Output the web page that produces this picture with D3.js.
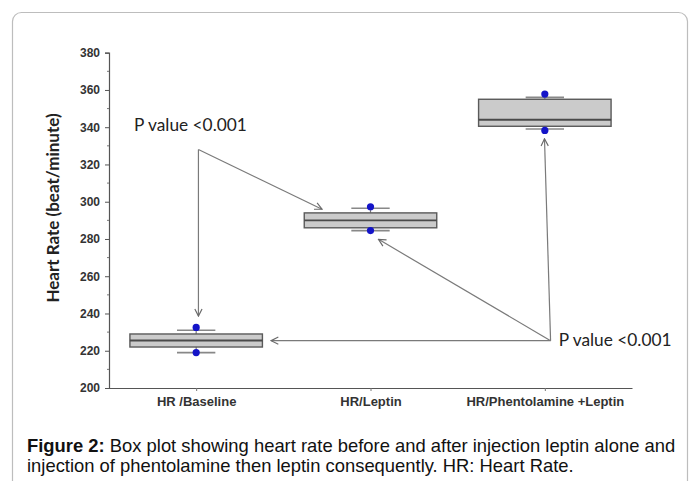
<!DOCTYPE html>
<html>
<head>
<meta charset="utf-8">
<script src="https://cdn.jsdelivr.net/npm/d3@7"></script>
<style>
  html, body { margin: 0; padding: 0; background: #fff; }
  svg { display: block; }
</style>
</head>
<body>
<div id="d3-container"></div>
<script>
/**
 * CONSTANTS AND DATA
 * */
const width = 696,
  height = 481;

// categories and box-plot statistics
const categories = ["HR /Baseline", "HR/Leptin", "HR/Phentolamine +Leptin"];
const q1 = [222, 286, 340.5];
const median = [225.5, 290, 344];
const q3 = [229, 294, 355];
const capLow = [219, 284.5, 339];
const capHigh = [231, 296.5, 356];
const pointLow = [219, 284.5, 338.3];
const pointHigh = [232.5, 297.3, 357.8];

const yTicks = [200, 220, 240, 260, 280, 300, 320, 340, 360, 380];
const yMinorTicks = [210, 230, 250, 270, 290, 310, 330, 350, 370];

// annotation arrows, in (category index, value) coordinates
const pLabels = [
  { text: "P value <0.001", x: -0.356, y: 338 },
  { text: "P value <0.001", x: 2.08, y: 222.8 }
];
const arrows = [
  { from: [0.013, 328], to: [0.013, 238.6] },
  { from: [0.013, 328], to: [0.722, 296] },
  { from: [2.033, 225.4], to: [0.43, 225.4] },
  { from: [2.033, 225.4], to: [1.046, 279.8] },
  { from: [2.033, 225.4], to: [1.998, 333.8] }
];

const caption = [
  { bold: "Figure 2:", rest: " Box plot showing heart rate before and after injection leptin alone and" },
  { bold: "", rest: "injection of phentolamine then leptin consequently. HR: Heart Rate." }
];

const plot = { left: 109, right: 632, top: 52.7, bottom: 388 };

/**
 * SCALES
 * */
const x = d3.scalePoint()
  .domain(categories)
  .range([plot.left, plot.right])
  .padding(0.5);

// linear version for annotation placement (index units)
const xi = d3.scaleLinear()
  .domain([-0.5, categories.length - 0.5])
  .range([plot.left, plot.right]);

const y = d3.scaleLinear()
  .domain([200, 380])
  .range([plot.bottom, plot.top]);

const step = x.step();
const boxW = step * 0.76;
const capW = step * 0.22;

const svg = d3.select("#d3-container")
  .append("svg")
  .attr("width", width)
  .attr("height", height);

// card frame
svg.append("rect")
  .attr("x", 12.5).attr("y", 12.5)
  .attr("width", 675).attr("height", 490)
  .attr("rx", 9)
  .attr("fill", "#fff")
  .attr("stroke", "#bdbdbd")
  .attr("stroke-width", 1.2);

svg.append("defs").append("marker")
  .attr("id", "arrowhead")
  .attr("viewBox", "0 0 10 10")
  .attr("refX", 9).attr("refY", 5)
  .attr("markerWidth", 9).attr("markerHeight", 9)
  .attr("markerUnits", "userSpaceOnUse")
  .attr("orient", "auto")
  .append("path")
  .attr("d", "M1,1 L9,5 L1,9")
  .attr("fill", "none")
  .attr("stroke", "#6a6a6a")
  .attr("stroke-width", 1.3);

/**
 * AXES
 * */
const yAxis = svg.append("g")
  .attr("transform", `translate(${plot.left},0)`)
  .call(d3.axisLeft(y).tickValues(yTicks).tickSize(4).tickPadding(5));
yAxis.select(".domain").attr("stroke", "#555").attr("stroke-width", 1.2);
yAxis.selectAll(".tick line").attr("stroke", "#555");
yAxis.selectAll(".tick text")
  .attr("font-family", "Arial, 'Liberation Sans', sans-serif")
  .attr("font-weight", "bold")
  .attr("font-size", 12)
  .attr("fill", "#333");

svg.append("g")
  .selectAll("line")
  .data(yMinorTicks)
  .join("line")
  .attr("x1", plot.left - 2).attr("x2", plot.left)
  .attr("y1", d => y(d)).attr("y2", d => y(d))
  .attr("stroke", "#777");

const xAxis = svg.append("g")
  .attr("transform", `translate(0,${plot.bottom})`)
  .call(d3.axisBottom(x).tickSize(3).tickPadding(6).tickSizeOuter(0));
xAxis.select(".domain").attr("stroke", "#555").attr("stroke-width", 1.2);
xAxis.selectAll(".tick line").attr("stroke", "#777");
xAxis.selectAll(".tick text")
  .attr("font-family", "Arial, 'Liberation Sans', sans-serif")
  .attr("font-weight", "bold")
  .attr("font-size", 13)
  .attr("fill", "#333");

svg.append("text")
  .attr("transform", "translate(59,208) rotate(-90)")
  .attr("text-anchor", "middle")
  .attr("font-family", "Lato, 'Open Sans', sans-serif")
  .attr("font-weight", "bold")
  .attr("font-size", 17)
  .attr("fill", "#222")
  .text("Heart Rate (beat/minute)");

/**
 * BOXES
 * */
const boxes = svg.append("g")
  .selectAll("g.box")
  .data(categories)
  .join("g")
  .attr("class", "box");

// whisker stubs
boxes.append("line")
  .attr("x1", d => x(d)).attr("x2", d => x(d))
  .attr("y1", (d, i) => y(q3[i])).attr("y2", (d, i) => y(pointHigh[i]))
  .attr("stroke", "#777").attr("stroke-width", 1.2);
boxes.append("line")
  .attr("x1", d => x(d)).attr("x2", d => x(d))
  .attr("y1", (d, i) => y(q1[i])).attr("y2", (d, i) => y(pointLow[i]))
  .attr("stroke", "#777").attr("stroke-width", 1.2);

// caps
boxes.append("line")
  .attr("x1", d => x(d) - capW / 2).attr("x2", d => x(d) + capW / 2)
  .attr("y1", (d, i) => y(capHigh[i])).attr("y2", (d, i) => y(capHigh[i]))
  .attr("stroke", "#888").attr("stroke-width", 1.6);
boxes.append("line")
  .attr("x1", d => x(d) - capW / 2).attr("x2", d => x(d) + capW / 2)
  .attr("y1", (d, i) => y(capLow[i])).attr("y2", (d, i) => y(capLow[i]))
  .attr("stroke", "#888").attr("stroke-width", 1.6);

boxes.append("rect")
  .attr("x", d => x(d) - boxW / 2)
  .attr("width", boxW)
  .attr("y", (d, i) => y(q3[i]))
  .attr("height", (d, i) => y(q1[i]) - y(q3[i]))
  .attr("fill", "#cbcbcb")
  .attr("stroke", "#5a5a5a")
  .attr("stroke-width", 1.4);

boxes.append("line")
  .attr("x1", d => x(d) - boxW / 2).attr("x2", d => x(d) + boxW / 2)
  .attr("y1", (d, i) => y(median[i])).attr("y2", (d, i) => y(median[i]))
  .attr("stroke", "#4a4a4a").attr("stroke-width", 1.8);

boxes.append("circle")
  .attr("cx", d => x(d)).attr("cy", (d, i) => y(pointHigh[i]))
  .attr("r", 3.6).attr("fill", "#1414c8");
boxes.append("circle")
  .attr("cx", d => x(d)).attr("cy", (d, i) => y(pointLow[i]))
  .attr("r", 3.6).attr("fill", "#1414c8");

/**
 * ANNOTATIONS
 * */
svg.append("g")
  .selectAll("line")
  .data(arrows)
  .join("line")
  .attr("x1", d => xi(d.from[0])).attr("y1", d => y(d.from[1]))
  .attr("x2", d => xi(d.to[0])).attr("y2", d => y(d.to[1]))
  .attr("stroke", "#7a7a7a")
  .attr("stroke-width", 1.2)
  .attr("marker-end", "url(#arrowhead)");

svg.append("g")
  .selectAll("text")
  .data(pLabels)
  .join("text")
  .attr("x", d => xi(d.x))
  .attr("y", d => y(d.y))
  .attr("font-family", "Lato, 'Open Sans', sans-serif")
  .attr("font-size", 17.3)
  .attr("fill", "#222")
  .text(d => d.text);

/**
 * CAPTION
 * */
const cap = svg.append("g")
  .selectAll("text")
  .data(caption)
  .join("text")
  .attr("x", 27)
  .attr("y", (d, i) => 452 + i * 19.5)
  .attr("font-family", "Arial, 'Liberation Sans', sans-serif")
  .attr("font-size", 18.4)
  .attr("fill", "#111");
cap.append("tspan").attr("font-weight", "bold").text(d => d.bold);
cap.append("tspan").text(d => d.rest);
</script>
</body>
</html>
